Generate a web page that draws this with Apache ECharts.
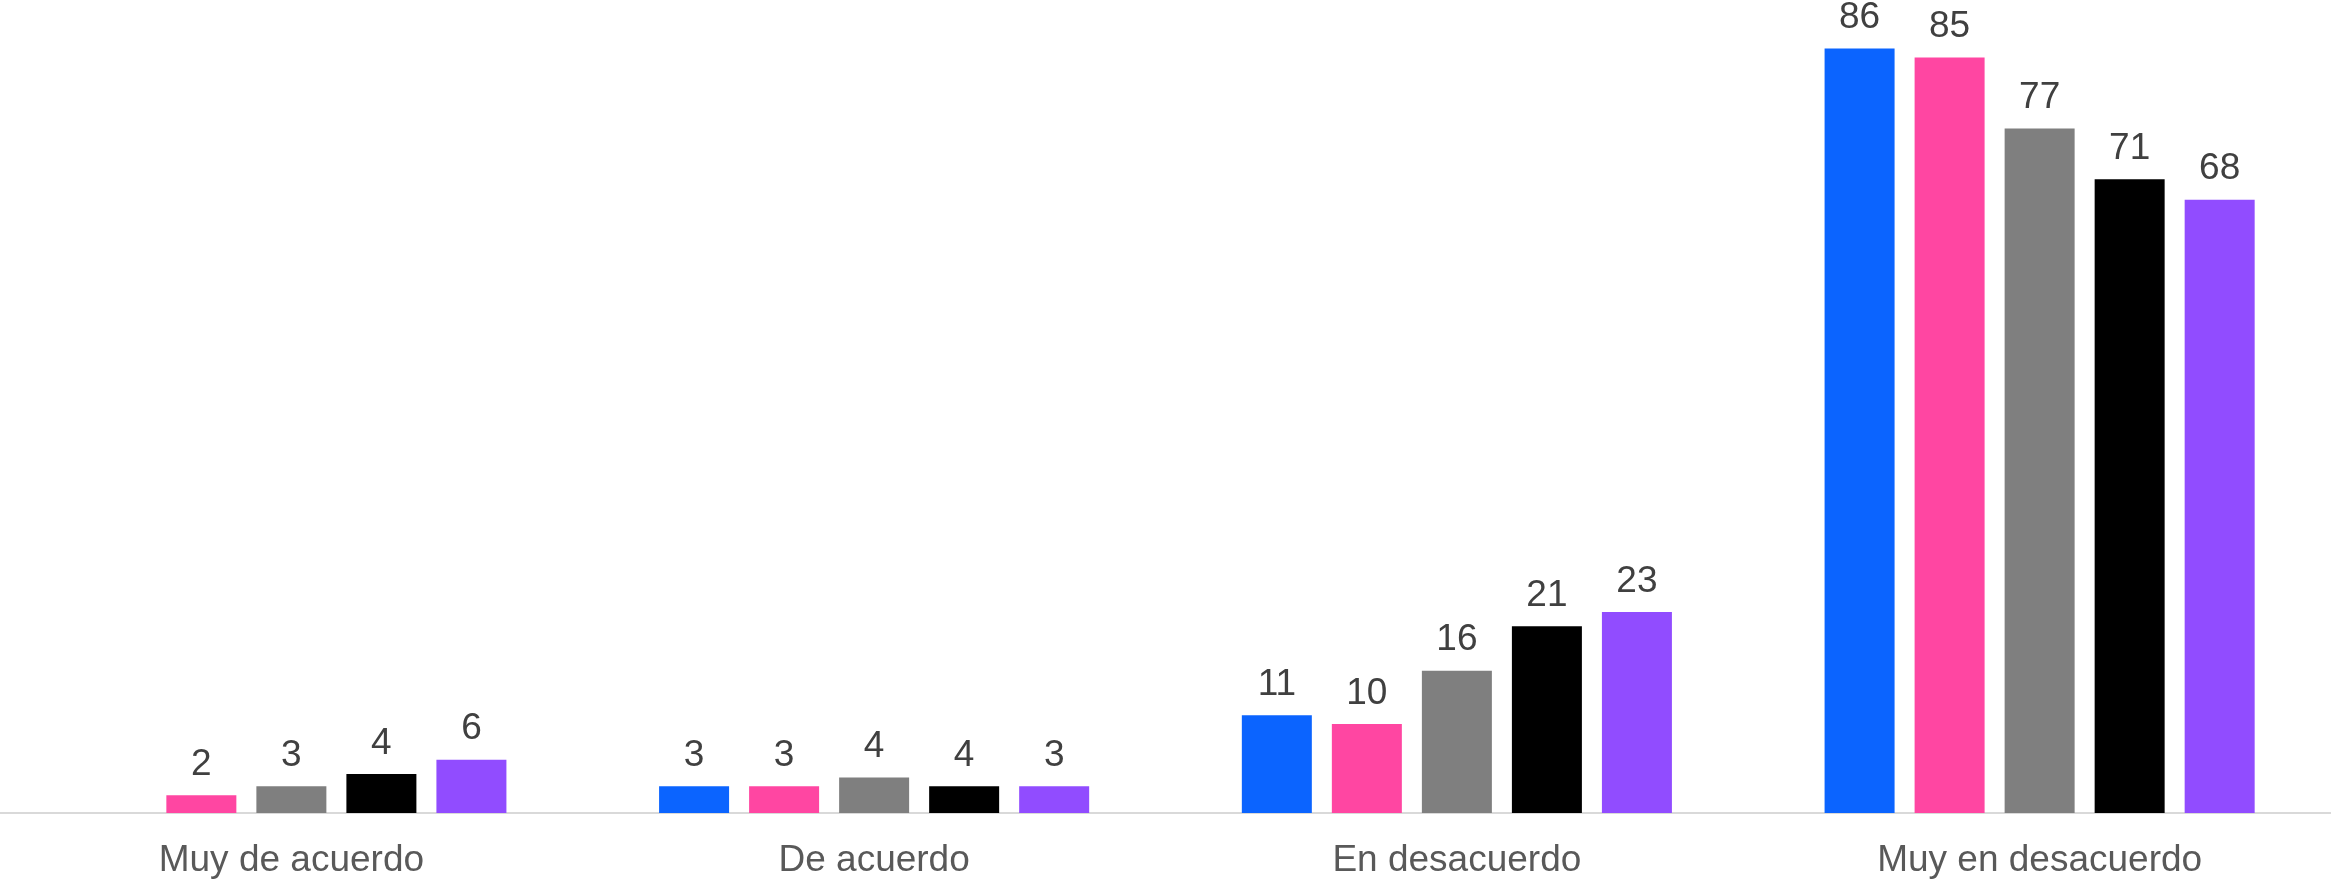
<!DOCTYPE html>
<html>
<head>
<meta charset="utf-8">
<script src="https://cdn.jsdelivr.net/npm/echarts@6/dist/echarts.min.js"></script>
<style>
html,body{margin:0;padding:0;background:#fff;}
#chart{width:2331px;height:879px;}
</style>
</head>
<body>
<div id="chart"></div>
<script>
const categories = ["Muy de acuerdo", "De acuerdo", "En desacuerdo", "Muy en desacuerdo"];
const seriesNames = ["Serie 1", "Serie 2", "Serie 3", "Serie 4", "Serie 5"];
// bar heights
const serie1 = [null, 3, 11, 86];
const serie2 = [2, 3, 10, 85];
const serie3 = [3, 4, 16, 77];
const serie4 = [4.4, 3, 21, 71.3];
const serie5 = [6, 3, 22.6, 69];
// value labels as printed on the picture
const labels1 = ["", "3", "11", "86"];
const labels2 = ["2", "3", "10", "85"];
const labels3 = ["3", "4", "16", "77"];
const labels4 = ["4", "4", "21", "71"];
const labels5 = ["6", "3", "23", "68"];
const colors = ["#0B64FF", "#FF46A2", "#7F7F7F", "#000000", "#914CFF"];

const allData = [serie1, serie2, serie3, serie4, serie5];
const allLabels = [labels1, labels2, labels3, labels4, labels5];
const chart = echarts.init(document.getElementById('chart'));
chart.setOption({
  animation: false,
  grid: {left: 0, right: 0, top: 13, bottom: 64, containLabel: false},
  xAxis: {
    type: 'category',
    data: categories,
    axisLine: {show: true, lineStyle: {color: '#D9D9D9', width: 2}},
    axisTick: {show: false},
    axisLabel: {color: '#595959', fontSize: 37, fontFamily: 'Liberation Sans, Arial, sans-serif', margin: 29}
  },
  yAxis: {
    type: 'value', min: 0, max: 90, show: false,
    splitLine: {show: false}
  },
  series: allData.map((d, i) => ({
    name: seriesNames[i],
    type: 'bar',
    data: d,
    barWidth: 70,
    barGap: '28.6%',
    itemStyle: {color: colors[i]},
    label: {
      show: true, position: 'top', distance: 12,
      color: '#404040', fontSize: 37, fontFamily: 'Liberation Sans, Arial, sans-serif',
      formatter: p => allLabels[i][p.dataIndex]
    }
  }))
});
</script>
</body>
</html>
